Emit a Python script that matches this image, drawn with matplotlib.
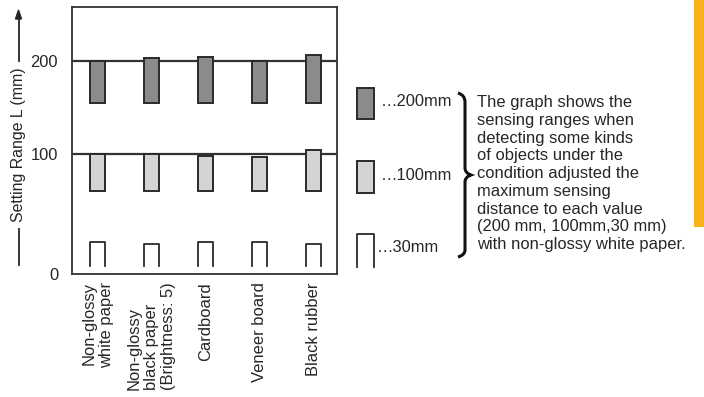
import matplotlib.pyplot as plt
from matplotlib.patches import Rectangle, PathPatch
from matplotlib.path import Path

plt.rcParams['font.family'] = ['Liberation Sans', 'DejaVu Sans']

# objects on the x axis
objects = ["Non-glossy\nwhite paper", "Non-glossy\nblack paper\n(Brightness: 5)",
           "Cardboard", "Veneer board", "Black rubber"]
label_align = ["right", "left", "center", "center", "center"]

# sensing ranges in its own (schematic) axis units
far_200 = [200, 202.5, 203.6, 200, 206.1]
near_200 = [155, 155, 155, 155, 155]
far_100 = [100, 100, 97.5, 96.4, 103.6]
near_100 = [60, 60, 60, 60, 60]
far_30 = [5.4, 2.5, 5.4, 5.4, 2.5]
near_30 = [-20.4, -20.4, -20.4, -20.4, -20.4]

ytick_pos = [-29.4, 100, 200]
ytick_lab = ["0", "100", "200"]
ref_lines = [100, 200]

legend_labels = ["\u2026200mm", "\u2026100mm", "\u202630mm"]
note = ("The graph shows the\nsensing ranges when\ndetecting some kinds\n"
        "of objects under the\ncondition adjusted the\nmaximum sensing\n"
        "distance to each value\n(200 mm, 100mm,30 mm)\nwith non-glossy white paper.")

dark = "#8b8b8d"
light = "#d3d4d6"
edge = "#2a2a2a"
txt = "#262626"
fs = 11.9

W, H = 704, 397
fig = plt.figure(figsize=(W / 100, H / 100), dpi=100)
ax = fig.add_axes([72 / W, 1 - 274 / H, 265 / W, (274 - 7.3) / H])

x = list(range(len(objects)))
bw = 0.28

for y in ref_lines:
    ax.axhline(y, color="#333333", lw=1.6, zorder=1)

ax.bar(x, [f - n for f, n in zip(far_200, near_200)], bottom=near_200, width=bw,
       color=dark, edgecolor=edge, lw=1.4, zorder=2)
ax.bar(x, [f - n for f, n in zip(far_100, near_100)], bottom=near_100, width=bw,
       color=light, edgecolor=edge, lw=1.4, zorder=2)
# 30mm bars are drawn open at the bottom
for xi, f, n in zip(x, far_30, near_30):
    ax.plot([xi - bw / 2, xi - bw / 2, xi + bw / 2, xi + bw / 2], [n, f, f, n],
            color=edge, lw=1.3, zorder=2)

ax.set_xlim(-0.472, 4.43)
ax.set_ylim(-29.4, 257.4)
ax.set_yticks(ytick_pos)
ax.set_yticklabels(ytick_lab, fontsize=fs, color=txt)
ax.set_xticks(x)
labs = ax.set_xticklabels(objects, rotation=90, fontsize=fs, color=txt, va="top")
for t, a in zip(labs, label_align):
    t.set_multialignment(a)
ax.tick_params(length=0, pad=6)
ax.tick_params(axis="y", pad=10)
for s in ax.spines.values():
    s.set_color("#333333")
    s.set_linewidth(1.3)

# y label with arrow line
fig.text(18.5 / W, 1 - 145 / H, "Setting Range L (mm)", rotation=90, ha="center", va="center",
         fontsize=11.4, color=txt)
fig.add_artist(plt.Line2D([18.5 / W, 18.5 / W], [1 - 265 / H, 1 - 229 / H], color=txt, lw=1.3))
fig.add_artist(plt.Line2D([18.5 / W, 18.5 / W], [1 - 61 / H, 1 - 18 / H], color=txt, lw=1.3))
fig.add_artist(plt.Polygon([[15.5 / W, 1 - 19 / H], [21.5 / W, 1 - 19 / H], [18.5 / W, 1 - 10 / H]],
                           closed=True, color=txt))

# legend boxes
box = dict(width=17 / W, lw=1.4, edgecolor=edge, transform=fig.transFigure)
fig.add_artist(Rectangle((357 / W, 1 - 119 / H), height=31 / H, facecolor=dark, **box))
fig.add_artist(Rectangle((357 / W, 1 - 193 / H), height=32 / H, facecolor=light, **box))
fig.add_artist(plt.Line2D([357 / W, 357 / W, 374 / W, 374 / W],
                          [1 - 267 / H, 1 - 234 / H, 1 - 234 / H, 1 - 267 / H], color=edge, lw=1.3))
fig.text(381 / W, 1 - 102 / H, legend_labels[0], fontsize=fs, va="center", color=txt)
fig.text(381 / W, 1 - 176 / H, legend_labels[1], fontsize=fs, va="center", color=txt)
fig.text(377 / W, 1 - 247 / H, legend_labels[2], fontsize=fs, va="center", color=txt)

# brace
pts = [(458, 93), (465, 95), (465, 102), (465, 168), (465, 173), (471, 175),
       (465, 177), (465, 182), (465, 250), (465, 255), (458, 257)]
codes = [Path.MOVETO, Path.CURVE3, Path.CURVE3, Path.LINETO, Path.CURVE3, Path.CURVE3,
         Path.CURVE3, Path.CURVE3, Path.LINETO, Path.CURVE3, Path.CURVE3]
brace = Path([(px / W, 1 - py / H) for px, py in pts], codes)
fig.add_artist(PathPatch(brace, facecolor="none", edgecolor="#111111", lw=2.2,
                         transform=fig.transFigure))

fig.text(477 / W, 1 - 95 / H, note, fontsize=fs, va="top", ha="left", linespacing=1.23,
         color=txt)

# orange side tab
fig.add_artist(Rectangle((694 / W, 1 - 227 / H), 10 / W, 227 / H, facecolor="#f9b21b",
                         edgecolor="none", transform=fig.transFigure))

fig.savefig("out.png", dpi=100)
